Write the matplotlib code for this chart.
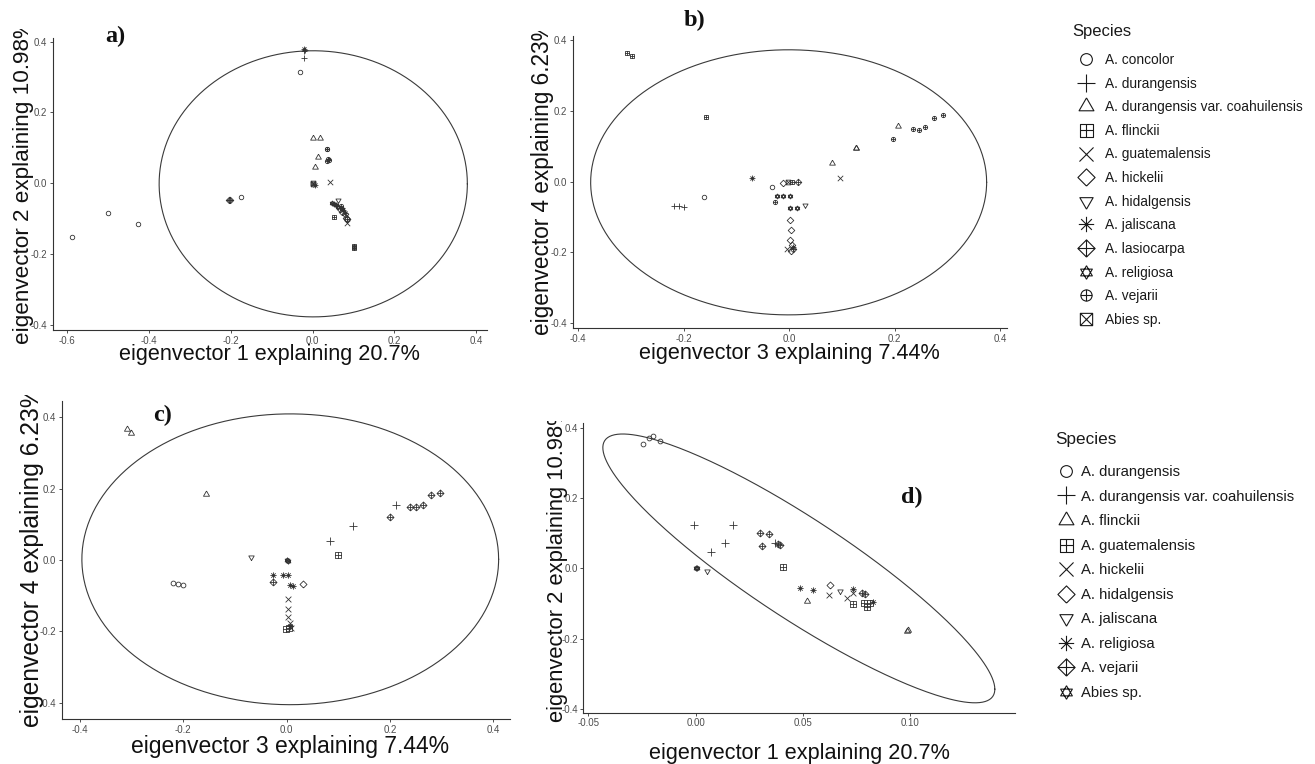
import numpy as np
import matplotlib
matplotlib.use("Agg")
import matplotlib.pyplot as plt
from matplotlib.path import Path
from matplotlib.lines import Line2D
from matplotlib.transforms import Bbox, TransformedBbox

plt.rcParams["font.family"] = ["Liberation Sans", "DejaVu Sans"]
plt.rcParams["axes.unicode_minus"] = False

W, H = 1315, 764

# species / shapes for panels a and b
species_ab = ["A. concolor", "A. durangensis", "A. durangensis var. coahuilensis",
              "A. flinckii", "A. guatemalensis", "A. hickelii", "A. hidalgensis",
              "A. jaliscana", "A. lasiocarpa", "A. religiosa", "A. vejarii", "Abies sp."]
shapes_ab = ["circle", "plus", "tri", "sqplus", "cross", "diamond", "tridown",
             "aster", "diaplus", "david", "circplus", "sqcross"]

# species / shapes for panels c and d
species_cd = ["A. durangensis", "A. durangensis var. coahuilensis", "A. flinckii",
              "A. guatemalensis", "A. hickelii", "A. hidalgensis", "A. jaliscana",
              "A. religiosa", "A. vejarii", "Abies sp."]
shapes_cd = ["circle", "plus", "tri", "sqplus", "cross", "diamond", "tridown",
             "aster", "diaplus", "david"]

# panel a: eigenvector 1 vs 2 (species index, x, y)
a_sp = [0, 0, 0, 0, 0, 1, 1, 1, 7, 7, 2, 2, 2, 2, 10, 10, 10, 10, 10, 11, 11,
        4, 4, 3, 3, 3, 3, 8, 8, 8, 9, 9, 9, 9, 9, 6, 5, 5, 5, 5, 5, 7, 7, 10]
a_x = [-0.031, -0.176, -0.500, -0.426, -0.588, -0.021, -0.021, -0.018, -0.021, 0.006,
       0.000, 0.018, 0.014, 0.007, 0.034, 0.036, 0.037, 0.034, 0.039, 0.000, 0.002,
       0.042, 0.083, 0.053, 0.100, 0.101, 0.102, -0.204, -0.201, 0.083,
       0.047, 0.052, 0.057, 0.062, 0.072, 0.063, 0.066, 0.072, 0.078, 0.081, 0.085,
       0.075, 0.079, 0.069]
a_y = [0.313, -0.040, -0.083, -0.116, -0.151, 0.372, 0.353, 0.376, 0.380, -0.006,
       0.127, 0.127, 0.073, 0.047, 0.097, 0.097, 0.068, 0.062, 0.066, -0.002, 0.000,
       0.005, -0.112, -0.096, -0.178, -0.182, -0.180, -0.047, -0.047, -0.100,
       -0.055, -0.058, -0.062, -0.068, -0.072, -0.047, -0.072, -0.080, -0.088, -0.097, -0.102,
       -0.075, -0.085, -0.065]

# panel b: eigenvector 3 vs 4
b_sp = [3, 3, 3, 3, 2, 2, 2, 2, 10, 10, 10, 10, 10, 10, 10, 1, 1, 1, 4, 4, 7, 7,
        0, 0, 5, 5, 5, 5, 5, 5, 11, 8, 8, 9, 9, 9, 9, 9, 6]
b_x = [-0.307, -0.298, -0.157, 0.005, 0.206, 0.126, 0.127, 0.081,
       0.196, 0.235, 0.246, 0.258, 0.275, 0.292, -0.027, -0.218, -0.208, -0.199,
       0.096, -0.005, -0.070, 0.007, -0.033, -0.162,
       -0.011, 0.001, 0.003, 0.002, 0.006, 0.004, -0.002, 0.017, 0.008,
       -0.024, -0.011, 0.001, 0.001, 0.014, 0.030]
b_y = [0.363, 0.354, 0.182, 0.000, 0.156, 0.094, 0.095, 0.054,
       0.121, 0.148, 0.146, 0.155, 0.180, 0.189, -0.057, -0.068, -0.068, -0.073,
       0.009, -0.192, 0.009, -0.186, -0.016, -0.043,
       -0.005, -0.108, -0.137, -0.165, -0.178, -0.197, 0.000, 0.000, -0.190,
       -0.042, -0.042, -0.042, -0.075, -0.075, -0.066]

# panel c: eigenvector 3 vs 4
c_sp = [2, 2, 2, 6, 0, 0, 0, 9, 9, 7, 7, 7, 7, 7, 7, 8, 8, 8, 8, 8, 8, 8, 5,
        4, 4, 4, 4, 4, 3, 3, 3, 1, 1, 1]
c_x = [-0.308, -0.301, -0.155, -0.069, -0.219, -0.210, -0.200, 0.000, 0.003,
       -0.026, -0.007, 0.003, 0.006, 0.013, 0.006,
       -0.026, 0.200, 0.239, 0.250, 0.263, 0.279, 0.297, 0.031,
       0.003, 0.003, 0.003, 0.006, 0.009, 0.100, 0.004, -0.002, 0.084, 0.129, 0.211]
c_y = [0.368, 0.355, 0.185, 0.009, -0.065, -0.067, -0.070, 0.000, -0.002,
       -0.042, -0.042, -0.042, -0.070, -0.072, -0.185,
       -0.061, 0.121, 0.150, 0.148, 0.155, 0.181, 0.189, -0.066,
       -0.110, -0.138, -0.160, -0.178, -0.192, 0.014, -0.190, -0.195, 0.053, 0.095, 0.154]

# panel d: eigenvector 1 vs 2
d_sp = [0, 0, 0, 0, 1, 1, 1, 1, 1, 8, 8, 8, 8, 8, 8, 8, 3, 3, 3, 3, 3, 9, 9,
        6, 6, 7, 7, 7, 7, 2, 2, 2, 5, 4, 4, 4]
d_x = [-0.0244, -0.0219, -0.0197, -0.0169, -0.0006, 0.0175, 0.0134, 0.0070, 0.0370,
       0.0300, 0.0343, 0.0310, 0.0385, 0.0390, 0.0773, 0.0790,
       0.0408, 0.0734, 0.0784, 0.0796, 0.0812, 0.0000, 0.0007,
       0.0050, 0.0672, 0.0486, 0.0548, 0.0731, 0.0827, 0.0520, 0.0983, 0.0990,
       0.0626, 0.0622, 0.0703, 0.0731]
d_y = [0.353, 0.370, 0.377, 0.363, 0.125, 0.125, 0.071, 0.046, 0.073,
       0.100, 0.098, 0.065, 0.069, 0.066, -0.071, -0.074,
       0.005, -0.100, -0.098, -0.111, -0.098, 0.000, 0.000,
       -0.008, -0.065, -0.057, -0.062, -0.060, -0.095, -0.092, -0.178, -0.176,
       -0.046, -0.076, -0.084, -0.071]

# confidence ellipses: centre and two conjugate semi-diameters
ell_center = {"a": (0.0015, -0.0015), "b": (-0.001, -0.002), "c": (0.007, 0.002), "d": (0.048, 0.0)}
ell_u = {"a": (0.3765, 0.0), "b": (0.375, 0.0), "c": (0.403, 0.0), "d": (0.0913, -0.344)}
ell_v = {"a": (0.0, 0.3755), "b": (0.0, 0.375), "c": (0.0, 0.408), "d": (0.0, 0.168)}


def lines_path(segments):
    verts, codes = [], []
    for seg in segments:
        verts += seg
        codes += [Path.MOVETO] + [Path.LINETO] * (len(seg) - 1)
    return Path(verts, codes)


sq = [(-1, -1), (1, -1), (1, 1), (-1, 1), (-1, -1)]
plus = [[(-1, 0), (1, 0)], [(0, -1), (0, 1)]]
cross = [[(-1, -1), (1, 1)], [(-1, 1), (1, -1)]]
tri_up = [(0, 1), (-0.866, -0.5), (0.866, -0.5), (0, 1)]
tri_dn = [(x, -y) for x, y in tri_up]
dia = [(0, -1), (1, 0), (0, 1), (-1, 0), (0, -1)]
circ = Path.unit_circle()

marker_paths = {
    "circle": circ,
    "plus": lines_path(plus),
    "tri": lines_path([tri_up]),
    "sqplus": lines_path([sq] + plus),
    "cross": lines_path(cross),
    "diamond": lines_path([dia]),
    "tridown": lines_path([tri_dn]),
    "aster": lines_path(plus + [[(-0.7, -0.7), (0.7, 0.7)], [(-0.7, 0.7), (0.7, -0.7)]]),
    "diaplus": lines_path([dia] + plus),
    "david": lines_path([tri_up, tri_dn]),
    "circplus": Path.make_compound_path(circ, lines_path(plus)),
    "sqcross": lines_path([sq] + cross),
}
size_fac = {"circle": 0.65, "plus": 1.0, "tri": 0.95, "sqplus": 0.72, "cross": 0.78,
            "diamond": 0.95, "tridown": 0.85, "aster": 0.85, "diaplus": 0.95,
            "david": 0.75, "circplus": 0.62, "sqcross": 0.68}

fig = plt.figure(figsize=(W / 100, H / 100), dpi=100)
fig.patch.set_facecolor("white")


def px_axes(left, top, right, bottom):
    return fig.add_axes([left / W, 1 - bottom / H, (right - left) / W, (bottom - top) / H])


def draw_panel(ax, key, sp, xs, ys, shapes, xlim, ylim, xticks, xticklabels, base_ms):
    sp = np.array(sp)
    xs = np.array(xs)
    ys = np.array(ys)
    t = np.linspace(0, 2 * np.pi, 300)
    cx, cy = ell_center[key]
    ux, uy = ell_u[key]
    vx, vy = ell_v[key]
    ax.plot(cx + ux * np.cos(t) + vx * np.sin(t), cy + uy * np.cos(t) + vy * np.sin(t),
            color="#3a3a3a", lw=0.8)
    for i, s in enumerate(shapes):
        m = sp == i
        if m.any():
            ax.plot(xs[m], ys[m], ls="none", marker=marker_paths[s], ms=base_ms * size_fac[s],
                    mfc="none", mec="#333333", mew=0.6)
    ax.set_xlim(*xlim)
    ax.set_ylim(*ylim)
    ax.set_xticks(xticks)
    ax.set_xticklabels(xticklabels)
    ax.set_yticks([-0.4, -0.2, 0.0, 0.2, 0.4])
    ax.set_yticklabels(["-0.4", "-0.2", "0.0", "0.2", "0.4"])
    for side in ["top", "right"]:
        ax.spines[side].set_visible(False)
    for side in ["left", "bottom"]:
        ax.spines[side].set_color("#333333")
        ax.spines[side].set_linewidth(0.8)
    ax.tick_params(length=2.5, width=0.6, color="#333333", labelsize=7,
                   labelcolor="#4d4d4d", pad=1.5)
    ax.patch.set_alpha(0)


ticks4 = [-0.4, -0.2, 0.0, 0.2, 0.4]
labels4 = ["-0.4", "-0.2", "0.0", "0.2", "0.4"]

ax_a = px_axes(52.7, 38, 487, 330)
draw_panel(ax_a, "a", a_sp, a_x, a_y, shapes_ab, (-0.635, 0.426), (-0.414, 0.410),
           [-0.6, -0.4, -0.2, 0.0, 0.2, 0.4], ["-0.6", "-0.4", "-0.2", "0.0", "0.2", "0.4"], 5.0)

ax_b = px_axes(572.7, 36, 1006.7, 328.3)
draw_panel(ax_b, "b", b_sp, b_x, b_y, shapes_ab, (-0.410, 0.412), (-0.415, 0.412),
           ticks4, labels4, 5.0)

ax_c = px_axes(61.7, 400.7, 510, 719.3)
draw_panel(ax_c, "c", c_sp, c_x, c_y, shapes_cd, (-0.435, 0.432), (-0.447, 0.447),
           ticks4, labels4, 5.3)

ax_d = px_axes(583.3, 422.7, 1015, 712.7)
draw_panel(ax_d, "d", d_sp, d_x, d_y, shapes_cd, (-0.0524, 0.1487), (-0.411, 0.415),
           [-0.05, 0.0, 0.05, 0.10], ["-0.05", "0.00", "0.05", "0.10"], 5.3)


def ftext(x, y, s, **kw):
    return fig.text(x / W, 1 - y / H, s, **kw)


# axis titles
ftext(269.5, 355, "eigenvector 1 explaining 20.7%", fontsize=15.6, ha="center", va="center", color="#111111")
ftext(789, 353, "eigenvector 3 explaining 7.44%", fontsize=15.6, ha="center", va="center", color="#111111")
ftext(290, 746, "eigenvector 3 explaining 7.44%", fontsize=16.5, ha="center", va="center", color="#111111")
ftext(799, 754, "eigenvector 1 explaining 20.7%", fontsize=15.6, ha="center", va="center", color="#111111")

# y titles run past the top of each panel and are cut there, as in the source figure
ylabels = [(24, 344, 29, "eigenvector 2 explaining 10.98%", 16.2),
           (543, 335, 31, "eigenvector 4 explaining 6.23%", 16.3),
           (32, 727, 395, "eigenvector 4 explaining 6.23%", 17.7),
           (558, 722, 421, "eigenvector 2 explaining 10.98%", 15.8)]
for x, yb, top, s, fs in ylabels:
    t = ftext(x, yb, s, fontsize=fs, rotation=90, ha="center", va="bottom", color="#111111")
    t.set_clip_box(TransformedBbox(Bbox.from_extents(0, 0, 1, 1 - top / H), fig.transFigure))
    t.set_clip_on(True)

# panel letters
for x, y, s in [(115, 36, "a)"), (695, 20, "b)"), (163, 415, "c)"), (912, 497, "d)")]:
    ftext(x, y, s, fontsize=17.5, fontweight="bold", family="Liberation Serif",
          ha="center", va="center", color="#111111")


def legend_handles(shapes, ms):
    return [Line2D([], [], ls="none", marker=marker_paths[s], ms=ms * size_fac[s],
                   mfc="none", mec="#1a1a1a", mew=0.8) for s in shapes]


leg1 = fig.legend(legend_handles(shapes_ab, 13), species_ab, loc="upper left",
                  bbox_to_anchor=(1072 / W, 1 - 24 / H), frameon=False, title="Species",
                  alignment="left", fontsize=9.9, title_fontsize=12, handlelength=2.0,
                  handletextpad=0.4, labelspacing=0.70, borderpad=0, borderaxespad=0)
leg1._legend_box.sep = 10

leg2 = fig.legend(legend_handles(shapes_cd, 13), species_cd, loc="upper left",
                  bbox_to_anchor=(1055 / W, 1 - 432 / H), frameon=False, title="Species",
                  alignment="left", fontsize=10.7, title_fontsize=12.3, handlelength=1.5,
                  handletextpad=0.25, labelspacing=0.71, borderpad=0, borderaxespad=0)
leg2._legend_box.sep = 13

for leg in (leg1, leg2):
    for txt in leg.get_texts():
        txt.set_color("#1a1a1a")
    leg.get_title().set_color("#1a1a1a")

fig.savefig("out.png", dpi=100)
